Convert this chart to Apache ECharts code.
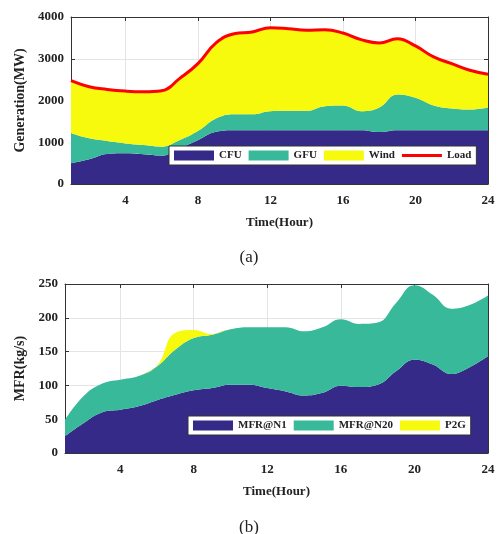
<!DOCTYPE html>
<html>
<head>
<meta charset="utf-8">
<script src="https://cdn.jsdelivr.net/npm/echarts@6/dist/echarts.min.js"></script>
<style>
  html, body { margin: 0; padding: 0; background: #fff; }
  #chart { width: 498px; height: 534px; }
</style>
</head>
<body>
<div id="chart"></div>
<script>
  // hours 1..24
  const hours = Array.from({ length: 24 }, (_, i) => String(i + 1));
  const showHour = (idx) => (idx + 1) % 4 === 0;

  // (a) generation, MW
  const cfu = [495, 590, 718, 734, 710, 678, 860, 1050, 1250, 1290, 1290, 1290, 1290, 1290, 1290, 1290, 1290, 1245, 1290, 1290, 1290, 1290, 1290, 1290];
  const gfu = [718, 503, 311, 239, 223, 216, 193, 220, 320, 383, 383, 455, 463, 463, 575, 590, 455, 588, 853, 774, 590, 519, 495, 543];
  const wind = [1261, 1237, 1237, 1253, 1277, 1340, 1477, 1614, 1810, 1927, 1968, 2000, 1968, 1928, 1832, 1737, 1713, 1545, 1339, 1243, 1164, 1075, 940, 796];
  const load = [2474, 2330, 2266, 2226, 2210, 2234, 2530, 2884, 3380, 3600, 3641, 3745, 3721, 3681, 3697, 3617, 3458, 3378, 3482, 3307, 3044, 2884, 2725, 2629];

  // (b) mass flow rate, kg/s
  const mfrN1 = [24.7, 44, 60, 64, 69, 78, 86, 92.7, 96, 101, 101, 96, 91, 85, 89, 99.6, 97.6, 101, 121, 138, 131, 117, 127, 143];
  const mfrN20 = [24.3, 40, 42.6, 44.5, 45, 50, 67, 77.3, 79, 82, 85, 90, 95, 95, 97, 98.4, 93.4, 92, 101, 110, 103, 96.5, 92, 90];
  const p2g = [0, 0, 0, 0, 0, 1, 25, 12, 1, 0, 0, 0, 0, 0, 0, 0, 0, 0, 0, 0, 0, 0, 0, 0];

  const colors = { blue: '#352a87', teal: '#38b99a', yellow: '#f8fa0d', red: '#ff0000' };
  const font = 'Liberation Serif';
  const txt = '#222';

  function xAxes(gridIndex) {
    const base = {
      gridIndex,
      type: 'category',
      data: hours,
      boundaryGap: false,
      axisLine: { show: true, onZero: false, lineStyle: { color: '#333', width: 1 } },
      axisTick: { show: true, inside: true, length: 4, interval: showHour, lineStyle: { color: '#333' } },
    };
    return [
      {
        ...base,
        position: 'bottom',
        name: 'Time(Hour)',
        nameLocation: 'middle',
        nameGap: 32,
        nameTextStyle: { fontFamily: font, fontWeight: 'bold', fontSize: 13, color: txt },
        axisLabel: { interval: showHour, fontFamily: font, fontWeight: 'bold', fontSize: 13, color: txt, margin: 10 },
        splitLine: { show: true, interval: showHour, lineStyle: { color: '#e4e4e4', width: 1 } },
      },
      {
        ...base,
        position: 'top',
        axisLabel: { show: false },
        splitLine: { show: false },
      },
    ];
  }

  function yAxes(gridIndex, max, interval, name, gap) {
    const base = {
      gridIndex,
      type: 'value',
      min: 0,
      max,
      interval,
      axisLine: { show: true, lineStyle: { color: '#333', width: 1 } },
      axisTick: { show: true, inside: true, length: 4, lineStyle: { color: '#333' } },
    };
    return [
      {
        ...base,
        position: 'left',
        name,
        nameLocation: 'middle',
        nameGap: gap,
        nameTextStyle: { fontFamily: font, fontWeight: 'bold', fontSize: 14, color: txt },
        axisLabel: { formatter: v => String(v), fontFamily: font, fontWeight: 'bold', fontSize: 13, color: txt, margin: 7 },
        splitLine: { show: true, lineStyle: { color: '#e4e4e4', width: 1 } },
      },
      {
        ...base,
        position: 'right',
        axisLabel: { show: false },
        splitLine: { show: false },
      },
    ];
  }

  function area(name, data, color, stack, xi, yi) {
    return {
      name,
      type: 'line',
      xAxisIndex: xi,
      yAxisIndex: yi,
      stack,
      smooth: 0.45,
      symbol: 'none',
      lineStyle: { width: 0 },
      areaStyle: { color, opacity: 1 },
      itemStyle: { color },
      data,
    };
  }

  const legendBase = {
    orient: 'horizontal',
    backgroundColor: '#fff',
    borderColor: '#333',
    borderWidth: 1,
    borderRadius: 0,
    padding: [4, 5],
    itemWidth: 40,
    itemHeight: 10,
    itemGap: 7,
    textStyle: { fontFamily: font, fontWeight: 'bold', fontSize: 11, color: txt },
  };

  const chart = echarts.init(document.getElementById('chart'), null, { renderer: 'canvas' });
  chart.setOption({
    animation: false,
    backgroundColor: '#fff',
    title: [
      { text: '(a)', left: 'center', top: 244, textStyle: { fontFamily: font, fontWeight: 'normal', fontSize: 17, color: txt } },
      { text: '(b)', left: 'center', top: 514, textStyle: { fontFamily: font, fontWeight: 'normal', fontSize: 17, color: txt } },
    ],
    legend: [
      {
        ...legendBase,
        left: 169,
        top: 146,
        data: [
          { name: 'CFU', icon: 'rect' },
          { name: 'GFU', icon: 'rect' },
          { name: 'Wind', icon: 'rect' },
          { name: 'Load', icon: 'path://M0,0 L40,0 L40,3 L0,3 Z' },
        ],
      },
      {
        ...legendBase,
        left: 188,
        top: 416,
        data: [
          { name: 'MFR@N1', icon: 'rect' },
          { name: 'MFR@N20', icon: 'rect' },
          { name: 'P2G', icon: 'rect' },
        ],
      },
    ],
    grid: [
      { left: 71, right: 10, top: 17, height: 167 },
      { left: 65, right: 10, top: 284, height: 169 },
    ],
    xAxis: [...xAxes(0), ...xAxes(1)],
    yAxis: [
      ...yAxes(0, 4000, 1000, 'Generation(MW)', 41),
      ...yAxes(1, 250, 50, 'MFR(kg/s)', 35),
    ],
    series: [
      area('CFU', cfu, colors.blue, 'gen', 0, 0),
      area('GFU', gfu, colors.teal, 'gen', 0, 0),
      area('Wind', wind, colors.yellow, 'gen', 0, 0),
      {
        name: 'Load',
        type: 'line',
        xAxisIndex: 0,
        yAxisIndex: 0,
        smooth: 0.45,
        symbol: 'none',
        z: 5,
        lineStyle: { color: colors.red, width: 3 },
        itemStyle: { color: colors.red },
        data: load,
      },
      area('MFR@N1', mfrN1, colors.blue, 'mfr', 2, 2),
      area('MFR@N20', mfrN20, colors.teal, 'mfr', 2, 2),
      area('P2G', p2g, colors.yellow, 'mfr', 2, 2),
    ],
  });
</script>
</body>
</html>
